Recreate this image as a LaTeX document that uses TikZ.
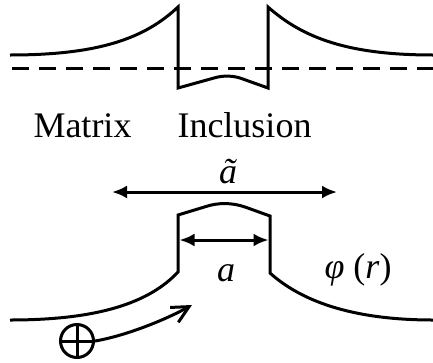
\documentclass[tikz,border=0pt]{standalone}
\usepackage{fontspec}
\setmainfont{Liberation Serif}
\usetikzlibrary{arrows.meta}

\begin{document}
\begin{tikzpicture}[x=1pt,y=-1pt,line width=3pt,
  >={Latex[length=15pt,width=13pt]},
  lbl/.style={font=\fontsize{36}{40}\selectfont,inner sep=0pt,anchor=base},
  ion/.style={circle,draw,minimum size=33pt,inner sep=0pt}]
  \useasboundingbox (0,0) rectangle (433,362);
  % upper profile and zero level
  \draw (10,55) .. controls (100,55) and (145,38) .. (178,7) -- (178,88)
    -- (214,78) .. controls (222,75.5) and (232,75.5) .. (240,78) -- (268,88)
    -- (268,7) .. controls (303,38) and (348,55) .. (433,55);
  \draw[dash pattern=on 17pt off 10pt] (12,68) -- (433,68);
  \node[lbl](mat) at (82.5,137){Matrix};
  \node[lbl](inc) at (244.5,137){Inclusion};
  % lower profile
  \draw (10,320) .. controls (100,320) and (150,302) .. (178,272) -- (178,215)
    -- (206,206.5) .. controls (218,202.5) and (232,202.5) .. (245,207) -- (270,216)
    -- (270,273) .. controls (300,300) and (350,320) .. (433,320);
  \coordinate (al) at (112,192);
  \coordinate (ar) at (337,192);
  \draw[<->](al)--(ar);
  \node[lbl](atil) at (228,183){\textit{ã}};
  \coordinate (bl) at (179.5,240);
  \coordinate (br) at (268.5,240);
  \draw[<->](bl)--(br);
  \node[lbl](a) at (226,281){\textit{a}};
  \node[lbl,anchor=base west](phi) at (323,278){\textit{φ} (\textit{r})};
  % moving ion
  \node[ion](q) at (77,341){};
  \draw (q.north)--(q.south) (q.west)--(q.east);
  \coordinate (tip) at (192,305);
  \draw[-{Straight Barb[length=17pt,width=17pt]}] (q.east) .. controls (125,336) and (165,320) .. (tip);
\end{tikzpicture}
\end{document}
